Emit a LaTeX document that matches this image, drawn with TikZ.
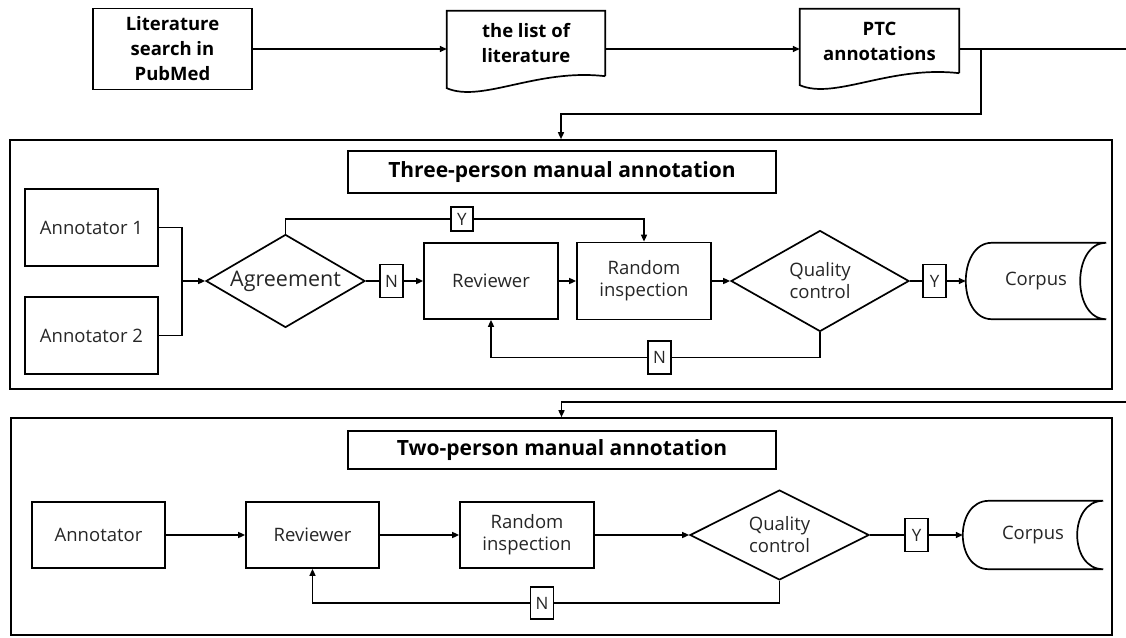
\documentclass[tikz,border=0pt]{standalone}
\usepackage{fontspec}
\setmainfont{Open Sans}
\usetikzlibrary{shapes.geometric,arrows.meta,calc}
\newcommand{\docshape}[1]{\draw[proc] (#1.south east) -- (#1.north east) -- (#1.north west) -- ($(#1.south west)+(0,12)$) .. controls ($(#1.south west)+(35,27)$) and ($(#1.south west)+(90,-8)$) .. (#1.south east);}
\newcommand{\corpusshape}[1]{\draw[proc] ($(#1.north west)+(26,0)$) -- (#1.north east) .. controls ($(#1.north east)+(-34.7,0)$) and ($(#1.south east)+(-34.7,0)$) .. (#1.south east) -- ($(#1.south west)+(26,0)$) .. controls ($(#1.south west)+(-8.7,0)$) and ($(#1.north west)+(-8.7,0)$) .. cycle;}
\begin{document}
\begin{tikzpicture}[x=1pt,y=-1pt,
  every node/.style={inner sep=0pt, align=center, text=black!85, font=\fontsize{18.5}{22}\selectfont},
  proc/.style={draw=black, line width=1.7pt},
  frame/.style={draw=black, line width=1.6pt},
  conn/.style={line width=1.5pt},
  arr/.style={conn, -{Triangle[length=7pt,width=6pt]}},
  lab/.style={draw=black, line width=1.4pt, fill=white, minimum width=23, minimum height=33, font=\fontsize{17}{19}\selectfont},
  dec/.style={draw=black, line width=1.7pt, diamond, aspect=1.75},
  topfont/.style={text=black, font=\bfseries\fontsize{18.5}{25}\selectfont},
  ttl/.style={draw=black, line width=1.6pt, minimum width=428, text=black, font=\bfseries\fontsize{21}{24}\selectfont},
]
\useasboundingbox (0,0) rectangle (1126,637);
\clip (0,0) rectangle (1126,637);

% ---------- top row ----------
\node[proc, topfont, minimum width=159, minimum height=81] (lit) at (172.5,49) {Literature\\search in\\PubMed};
\node[topfont, minimum width=158, minimum height=65] (list) at (526,43.5) {the list of\\literature};
\node[topfont, minimum width=159, minimum height=64] (ptc) at (879.5,41) {PTC\\annotations};
\docshape{list}
\docshape{ptc}

% ---------- frame A ----------
\node[frame, minimum width=1102, minimum height=249] (boxA) at (561,264.5) {};
\node[ttl, minimum height=42] (titleA) at (562,172) {Three-person manual annotation};
\node[proc, minimum width=133, minimum height=77] (ann1) at (91.5,227.5) {Annotator 1};
\node[proc, minimum width=133, minimum height=77] (ann2) at (91.5,335.5) {Annotator 2};
\node[dec, minimum width=159, minimum height=93, font=\fontsize{21.5}{24}\selectfont] (agree) at (285.5,281) {Agreement};
\node[lab] (nA) at (391.5,281) {N};
\node[proc, minimum width=134, minimum height=76] (revA) at (491,281) {Reviewer};
\node[proc, minimum width=134, minimum height=77] (randA) at (644,281) {Random\\inspection};
\node[dec, minimum width=178, minimum height=101] (qcA) at (820,281) {Quality\\control};
\node[lab] (yA) at (934.5,281) {Y};
\node[minimum width=140, minimum height=76] (corA) at (1036,281) {Corpus};
\corpusshape{corA}
\node[lab, minimum width=22, minimum height=24] (yT) at (462,219) {Y};
\node[lab] (nbA) at (659.5,357.5) {N};
\coordinate (jA) at (182,281);

% ---------- frame B ----------
\node[frame, minimum width=1101, minimum height=217] (boxB) at (561.5,526.5) {};
\node[ttl, minimum height=38] (titleB) at (562,450) {Two-person manual annotation};
\node[proc, minimum width=133, minimum height=66] (annB) at (98.5,535) {Annotator};
\node[proc, minimum width=133, minimum height=66] (revB) at (312.5,535) {Reviewer};
\node[proc, minimum width=134, minimum height=66] (randB) at (527,535) {Random\\inspection};
\node[dec, minimum width=179, minimum height=90] (qcB) at (779.5,535) {Quality\\control};
\node[lab] (yB) at (916.5,535) {Y};
\node[minimum width=140, minimum height=68] (corB) at (1033,535) {Corpus};
\corpusshape{corB}
\node[lab, minimum height=32] (nbB) at (542,603) {N};

% ---------- connectors: top ----------
\draw[arr] (lit.east) -- (lit.east -| list.west);
\draw[arr] (list.east |- lit.east) -- (ptc.west |- lit.east);
\coordinate (brA) at ($(ptc.east |- lit.east)+(22,0)$);
\draw[arr] (brA) |- ($(boxA.north)+(0,-25)$) -- (boxA.north);
\draw[arr] (ptc.east |- lit.east) -- ++(200,0) |- ($(boxB.north)+(0,-15)$) -- (boxB.north);

% ---------- connectors: A ----------
\draw[conn] (ann1.east) -| (jA);
\draw[conn] (ann2.east) -| (jA);
\draw[arr] (jA) -- (agree.west);
\draw[conn] (agree.east) -- (nA.west);
\draw[arr] (nA.east) -- (revA.west);
\draw[arr] (revA.east) -- (randA.west);
\draw[arr] (randA.east) -- (qcA.west);
\draw[conn] (qcA.east) -- (yA.west);
\draw[arr] (yA.east) -- (corA.west);
\draw[conn] (agree.north) |- (yT.west);
\draw[arr] (yT.east) -| (randA.north);
\draw[conn] (qcA.south) |- (nbA.east);
\draw[arr] (nbA.west) -| (revA.south);

% ---------- connectors: B ----------
\draw[arr] (annB) -- (revB);
\draw[arr] (revB) -- (randB);
\draw[arr] (randB) -- (qcB);
\draw[conn] (qcB) -- (yB);
\draw[arr] (yB) -- (corB);
\draw[conn] (qcB.south) |- (nbB.east);
\draw[arr] (nbB.west) -| (revB.south);
\end{tikzpicture}
\end{document}
